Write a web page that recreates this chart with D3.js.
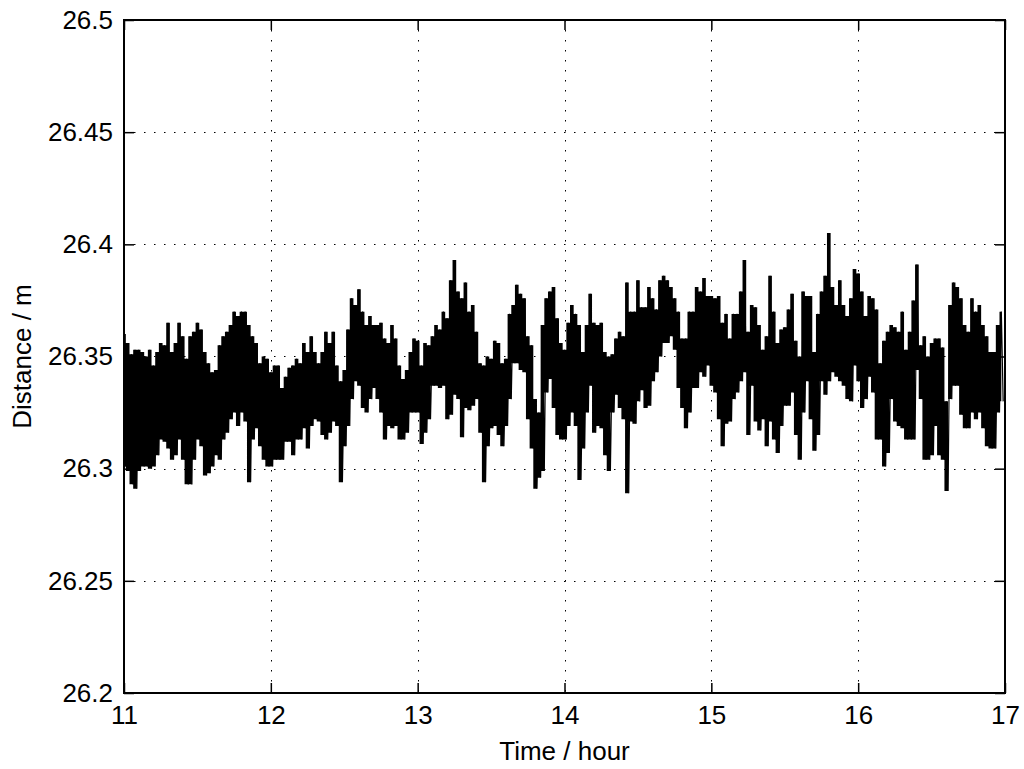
<!DOCTYPE html>
<html>
<head>
<meta charset="utf-8">
<script src="https://cdn.jsdelivr.net/npm/d3@7"></script>
<style>
  html, body { margin: 0; padding: 0; background: #fff; }
  svg { display: block; font-family: 'Liberation Sans', Arial, sans-serif; }
  .grid line { stroke: #000; stroke-width: 1; stroke-dasharray: 1.5 8.5; }
  .axis path, .axis line { stroke: #000; }
  .axis text { fill: #000; font-size: 26px; }
</style>
</head>
<body>
<div id="chart"></div>
<script>
  // local high / low of the trace in 0.025 h bins
  const high11 = [26.360, 26.356, 26.351, 26.353, 26.353, 26.352, 26.350, 26.353, 26.346, 26.352,
    26.356, 26.355, 26.365, 26.352, 26.356, 26.365, 26.359, 26.349, 26.359, 26.361,
    26.365, 26.362, 26.352, 26.347, 26.343, 26.344, 26.355, 26.359, 26.361, 26.364,
    26.370, 26.368, 26.370, 26.370, 26.364, 26.359, 26.356, 26.347, 26.350, 26.349];
  const low11 = [26.301, 26.299, 26.293, 26.291, 26.299, 26.301, 26.301, 26.300, 26.301, 26.306,
    26.313, 26.312, 26.309, 26.304, 26.306, 26.313, 26.304, 26.293, 26.293, 26.304,
    26.313, 26.310, 26.297, 26.298, 26.301, 26.306, 26.304, 26.313, 26.316, 26.322,
    26.325, 26.319, 26.325, 26.321, 26.294, 26.313, 26.318, 26.310, 26.304, 26.301];

  const high12 = [26.343, 26.346, 26.346, 26.336, 26.341, 26.345, 26.346, 26.349, 26.347, 26.356,
    26.352, 26.359, 26.352, 26.347, 26.352, 26.361, 26.356, 26.361, 26.346, 26.339,
    26.344, 26.362, 26.376, 26.373, 26.380, 26.370, 26.364, 26.368, 26.364, 26.364,
    26.365, 26.358, 26.356, 26.364, 26.358, 26.346, 26.340, 26.344, 26.352, 26.358];
  const low12 = [26.301, 26.304, 26.304, 26.304, 26.312, 26.312, 26.306, 26.313, 26.313, 26.318,
    26.309, 26.319, 26.322, 26.321, 26.315, 26.313, 26.316, 26.321, 26.319, 26.294,
    26.310, 26.319, 26.331, 26.339, 26.337, 26.327, 26.325, 26.331, 26.336, 26.331,
    26.325, 26.313, 26.319, 26.318, 26.319, 26.313, 26.313, 26.316, 26.325, 26.325];

  const high13 = [26.357, 26.346, 26.356, 26.355, 26.359, 26.364, 26.362, 26.370, 26.367, 26.384,
    26.393, 26.379, 26.376, 26.383, 26.370, 26.373, 26.361, 26.347, 26.346, 26.350,
    26.349, 26.357, 26.356, 26.347, 26.349, 26.369, 26.373, 26.382, 26.378, 26.376,
    26.359, 26.355, 26.331, 26.325, 26.364, 26.376, 26.379, 26.381, 26.367, 26.356];
  const low13 = [26.325, 26.311, 26.316, 26.322, 26.337, 26.337, 26.336, 26.337, 26.322, 26.324,
    26.333, 26.331, 26.314, 26.327, 26.326, 26.328, 26.331, 26.316, 26.294, 26.310,
    26.318, 26.319, 26.315, 26.310, 26.319, 26.331, 26.347, 26.347, 26.344, 26.343,
    26.322, 26.309, 26.291, 26.296, 26.299, 26.334, 26.340, 26.327, 26.315, 26.313];

  const high14 = [26.353, 26.365, 26.373, 26.369, 26.364, 26.352, 26.364, 26.378, 26.365, 26.364,
    26.365, 26.352, 26.350, 26.351, 26.358, 26.361, 26.359, 26.383, 26.370, 26.370,
    26.384, 26.372, 26.372, 26.381, 26.376, 26.371, 26.384, 26.386, 26.384, 26.381,
    26.376, 26.370, 26.358, 26.358, 26.370, 26.370, 26.381, 26.379, 26.385, 26.377];
  const low14 = [26.313, 26.319, 26.325, 26.319, 26.295, 26.309, 26.325, 26.337, 26.316, 26.319,
    26.318, 26.306, 26.299, 26.325, 26.333, 26.327, 26.322, 26.289, 26.321, 26.320,
    26.330, 26.335, 26.327, 26.328, 26.339, 26.343, 26.350, 26.356, 26.356, 26.359,
    26.353, 26.336, 26.327, 26.318, 26.325, 26.336, 26.336, 26.343, 26.341, 26.346];

  const high15 = [26.377, 26.376, 26.377, 26.365, 26.369, 26.358, 26.369, 26.369, 26.379, 26.393,
    26.361, 26.373, 26.372, 26.364, 26.353, 26.359, 26.386, 26.370, 26.356, 26.362,
    26.363, 26.371, 26.378, 26.357, 26.350, 26.379, 26.377, 26.377, 26.352, 26.369,
    26.379, 26.386, 26.405, 26.381, 26.373, 26.384, 26.373, 26.368, 26.376, 26.389];
  const low15 = [26.337, 26.334, 26.322, 26.310, 26.320, 26.321, 26.331, 26.334, 26.339, 26.343,
    26.315, 26.337, 26.321, 26.317, 26.322, 26.310, 26.321, 26.313, 26.307, 26.319,
    26.328, 26.328, 26.334, 26.315, 26.304, 26.325, 26.339, 26.322, 26.308, 26.315,
    26.339, 26.333, 26.339, 26.343, 26.341, 26.339, 26.337, 26.331, 26.330, 26.346];

  const high16 = [26.387, 26.379, 26.368, 26.377, 26.376, 26.371, 26.347, 26.357, 26.361, 26.364,
    26.363, 26.361, 26.370, 26.353, 26.361, 26.375, 26.391, 26.355, 26.359, 26.350,
    26.356, 26.358, 26.358, 26.354, 26.330, 26.373, 26.383, 26.381, 26.376, 26.364,
    26.361, 26.376, 26.370, 26.373, 26.364, 26.359, 26.352, 26.352, 26.364, 26.370];
  const low16 = [26.339, 26.327, 26.331, 26.341, 26.334, 26.313, 26.313, 26.301, 26.307, 26.331,
    26.321, 26.319, 26.318, 26.313, 26.313, 26.313, 26.344, 26.331, 26.304, 26.304,
    26.306, 26.319, 26.306, 26.304, 26.290, 26.331, 26.337, 26.337, 26.324, 26.318,
    26.318, 26.325, 26.322, 26.325, 26.318, 26.310, 26.309, 26.309, 26.325, 26.330];

  const xTicks = [11, 12, 13, 14, 15, 16, 17];
  const yTicks = [26.2, 26.25, 26.3, 26.35, 26.4, 26.45, 26.5];
  const xLabel = 'Time / hour';
  const yLabel = 'Distance / m';

  const width = 1024, height = 769;
  const margin = { top: 20, right: 19, bottom: 76, left: 124 };
  const plotW = width - margin.left - margin.right;
  const plotH = height - margin.top - margin.bottom;

  const highs = [].concat(high11, high12, high13, high14, high15, high16);
  const lows = [].concat(low11, low12, low13, low14, low15, low16);
  const binSize = 0.025;

  const bins = highs.map((h, i) => ({ t: 11 + i * binSize, hi: h, lo: lows[i] }));

  // zigzag through the high and low of each bin, like a dense sampled trace
  const trace = [];
  bins.forEach(b => {
    trace.push({ t: b.t, v: b.hi });
    trace.push({ t: b.t + binSize / 2, v: b.lo });
  });

  const x = d3.scaleLinear().domain([11, 17]).range([0, plotW]);
  const y = d3.scaleLinear().domain([26.2, 26.5]).range([plotH, 0]);

  const svg = d3.select('#chart')
    .append('svg')
    .attr('width', width)
    .attr('height', height);

  svg.append('rect')
    .attr('width', width)
    .attr('height', height)
    .attr('fill', '#fff');

  const g = svg.append('g')
    .attr('transform', `translate(${margin.left}, ${margin.top})`);

  // dotted grid
  g.append('g')
    .attr('class', 'grid')
    .selectAll('line')
    .data(xTicks.slice(1, -1))
    .enter()
    .append('line')
    .attr('x1', d => Math.round(x(d)) + 0.5)
    .attr('x2', d => Math.round(x(d)) + 0.5)
    .attr('y1', 0)
    .attr('y2', plotH);

  g.append('g')
    .attr('class', 'grid')
    .selectAll('line')
    .data(yTicks.slice(1, -1))
    .enter()
    .append('line')
    .attr('y1', d => Math.round(y(d)) + 0.5)
    .attr('y2', d => Math.round(y(d)) + 0.5)
    .attr('x1', 0)
    .attr('x2', plotW);

  // the sampled trace is so dense that it paints its whole band black
  const bandArea = d3.area()
    .curve(d3.curveStep)
    .x(d => x(d.t))
    .y0(d => y(d.lo))
    .y1(d => y(d.hi));

  g.append('path')
    .attr('d', bandArea(bins))
    .attr('fill', '#000')
    .attr('stroke', 'none');

  const line = d3.line()
    .x(d => x(d.t))
    .y(d => y(d.v));

  g.append('path')
    .attr('d', line(trace))
    .attr('fill', 'none')
    .attr('stroke', '#000')
    .attr('stroke-width', 1.2);

  // axes, ticks pointing inward on all four sides
  const fmt = d => String(d);

  g.append('g')
    .attr('class', 'axis')
    .call(d3.axisLeft(y).tickValues(yTicks).tickSize(-10).tickPadding(11).tickFormat(fmt))
    .call(s => s.select('.domain').remove())
    .selectAll('line').attr('stroke-width', 1.5);

  g.append('g')
    .attr('class', 'axis')
    .attr('transform', `translate(${plotW}, 0)`)
    .call(d3.axisRight(y).tickValues(yTicks).tickSize(-10).tickFormat(''))
    .call(s => s.select('.domain').remove())
    .selectAll('line').attr('stroke-width', 1.5);

  g.append('g')
    .attr('class', 'axis')
    .attr('transform', `translate(0, ${plotH})`)
    .call(d3.axisBottom(x).tickValues(xTicks).tickSize(-10).tickPadding(13).tickFormat(fmt))
    .call(s => s.select('.domain').remove())
    .selectAll('line').attr('stroke-width', 1.5);

  g.append('g')
    .attr('class', 'axis')
    .call(d3.axisTop(x).tickValues(xTicks).tickSize(-10).tickFormat(''))
    .call(s => s.select('.domain').remove())
    .selectAll('line').attr('stroke-width', 1.5);

  // box
  g.append('rect')
    .attr('x', 0)
    .attr('y', 0)
    .attr('width', plotW)
    .attr('height', plotH)
    .attr('fill', 'none')
    .attr('stroke', '#000')
    .attr('stroke-width', 2);

  svg.append('text')
    .attr('x', margin.left + plotW / 2)
    .attr('y', 760)
    .attr('text-anchor', 'middle')
    .attr('font-size', 26)
    .text(xLabel);

  svg.append('text')
    .attr('transform', `translate(31, ${margin.top + plotH / 2}) rotate(-90)`)
    .attr('text-anchor', 'middle')
    .attr('font-size', 26)
    .text(yLabel);
</script>
</body>
</html>
